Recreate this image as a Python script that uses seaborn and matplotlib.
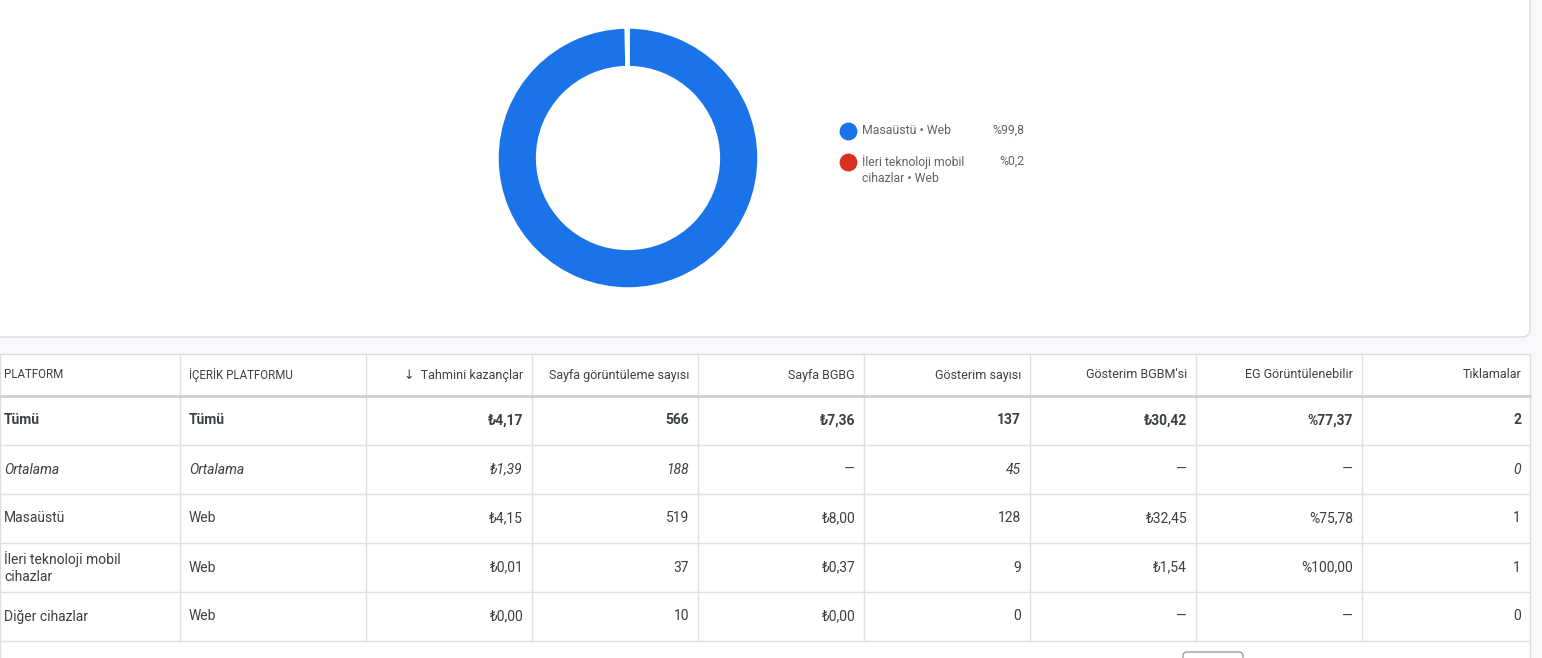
import matplotlib
matplotlib.use("Agg")
import matplotlib.pyplot as plt
import seaborn as sns
from matplotlib.patches import FancyBboxPatch, Rectangle

sns.set_theme(style="white")
plt.rcParams['font.family'] = ['Roboto', 'DejaVu Sans']

# ---- data ----
slice_labels = ["Masaüstü • Web", "İleri teknoloji mobil\ncihazlar • Web"]
slice_values = [99.8, 0.2]
slice_pct = ["%99,8", "%0,2"]
slice_colors = ["#1a73e8", "#d93025"]

headers = ["PLATFORM", "İÇERİK PLATFORMU", "↓  Tahmini kazançlar", "Sayfa görüntüleme sayısı",
           "Sayfa BGBG", "Gösterim sayısı", "Gösterim BGBM'si", "EG Görüntülenebilir", "Tıklamalar"]
row_total = ["Tümü", "Tümü", "₺4,17", "566", "₺7,36", "137", "₺30,42", "%77,37", "2"]
row_avg = ["Ortalama", "Ortalama", "₺1,39", "188", "—", "45", "—", "—", "0"]
row_desktop = ["Masaüstü", "Web", "₺4,15", "519", "₺8,00", "128", "₺32,45", "%75,78", "1"]
row_mobile = ["İleri teknoloji mobil\ncihazlar", "Web", "₺0,01", "37", "₺0,37", "9", "₺1,54", "%100,00", "1"]
row_other = ["Diğer cihazlar", "Web", "₺0,00", "10", "₺0,00", "0", "—", "—", "0"]
rows = [row_total, row_avg, row_desktop, row_mobile, row_other]

W, H = 1542, 658
fig = plt.figure(figsize=(W / 100, H / 100), dpi=100)
fig.patch.set_facecolor("#f8f9fa")
bg = fig.add_axes([0, 0, 1, 1])
bg.set_xlim(0, W); bg.set_ylim(H, 0); bg.axis("off")

bg.add_patch(FancyBboxPatch((-20, -20), 1550, 357, boxstyle="round,pad=0,rounding_size=8",
                            fc="white", ec="#dadce0", lw=1))
bg.add_patch(Rectangle((0, 354), 1530, 310, fc="white", ec="#dadce0", lw=1))

cols = [0, 180, 366, 532, 698, 864, 1030, 1196, 1362, 1530]
ys = [354, 396, 445, 494, 543, 592, 641]
for x in cols[1:-1]:
    bg.plot([x, x], [354, 641], color="#e0e0e0", lw=1)
for i, y in enumerate(ys[1:]):
    bg.plot([0, 1530], [y, y], color="#e0e0e0" if i else "#d0d0d0", lw=1 if i else 2)

tc = "#3c4043"
for j, h in enumerate(headers):
    yc = (ys[0] + ys[1]) / 2
    if j < 2:
        bg.text(cols[j] + 4 + (5 if j == 1 else 0), yc, h, ha="left", va="center",
                fontsize=8.3, color=tc)
    else:
        bg.text(cols[j + 1] - 9, yc, h, ha="right", va="center", fontsize=9, color=tc)
for i, r in enumerate(rows):
    yc = (ys[i + 1] + ys[i + 2]) / 2
    weight = "bold" if i == 0 else "normal"
    style = "italic" if i == 1 else "normal"
    for j, v in enumerate(r):
        if j < 2:
            bg.text(cols[j] + 4 + (5 if j == 1 else 0), yc, v, ha="left", va="center", fontsize=10,
                    color=tc, weight=weight, style=style, linespacing=1.3)
        else:
            bg.text(cols[j + 1] - 9, yc, v, ha="right", va="center", fontsize=10,
                    color=tc, weight=weight, style=style)

bg.add_patch(FancyBboxPatch((1183, 652), 60, 20, boxstyle="round,pad=0,rounding_size=4",
                            fc="white", ec="#9aa0a6", lw=1))

# donut
cx, cy, R = 628, 158, 131
pie_ax = fig.add_axes([(cx - R) / W, 1 - (cy + R) / H, 2 * R / W, 2 * R / H])
pie_ax.pie(slice_values, colors=slice_colors, startangle=90, counterclock=False,
           wedgeprops=dict(width=0.31, edgecolor="white", linewidth=2.5))
pie_ax.set_xlim(-1, 1); pie_ax.set_ylim(-1, 1)
pie_ax.set_aspect("equal"); pie_ax.axis("off")

# legend
ly = [131, 162]
for k in range(2):
    bg.scatter([848], [ly[k]], s=140, color=slice_colors[k])
    bg.text(862, ly[k] - 7, slice_labels[k], ha="left", va="top", fontsize=8.8,
            color="#5f6368", linespacing=1.3)
    bg.text(1024, ly[k] - 7, slice_pct[k], ha="right", va="top", fontsize=8.8, color="#5f6368")

fig.savefig("out.png", dpi=100, facecolor=fig.get_facecolor())
